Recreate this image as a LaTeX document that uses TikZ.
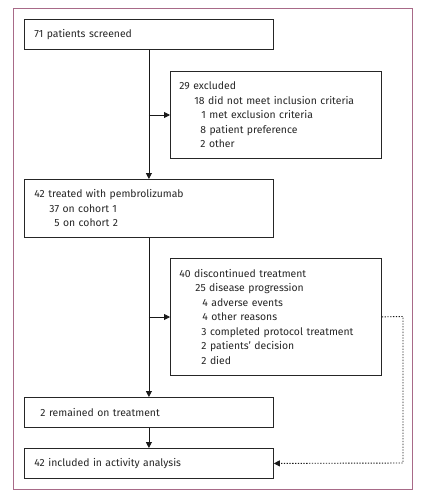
\documentclass[tikz,border=0pt]{standalone}
\usepackage{fontspec}
\setmainfont{Fira Sans}
\usetikzlibrary{arrows.meta}
\definecolor{framec}{HTML}{A86A88}
\tikzset{
  box/.style={draw=black!85, line width=0.8pt, anchor=north west, align=left, inner ysep=0pt,
    font=\fontsize{10.4pt}{14.5pt}\selectfont, text=black!85},
  boxL/.style={box, inner xsep=10pt, minimum width=249pt, text width=229pt},
  boxR/.style={box, inner xsep=9pt, minimum width=211pt, text width=193pt},
  arr/.style={draw=black!90, line width=0.8pt, -{Triangle[length=6pt,width=6pt]}},
  dotarr/.style={draw=black!90, line width=0.9pt, dash pattern=on 1.3pt off 1.5pt, -{Triangle[length=6pt,width=6pt]}}
}
\begin{document}
\begin{tikzpicture}[x=1pt,y=-1pt]
\useasboundingbox (0,0) rectangle (428,498);
\draw[framec, line width=0.8pt] (13,8) rectangle (412,489);
\node[boxL, minimum height=30pt] (scr) at (24,19) {71 patients screened};
\node[boxR, minimum height=87pt] (exc) at (170,71) {29 excluded\\
\hspace*{15pt}18 did not meet inclusion criteria\\
\hspace*{22pt}1 met exclusion criteria\\
\hspace*{21pt}8 patient preference\\
\hspace*{21pt}2 other};
\node[boxL, minimum height=58pt] (trt) at (24,179) {42 treated with pembrolizumab\\
\hspace*{15pt}37 on cohort 1\\
\hspace*{20pt}5 on cohort 2};
\node[boxR, minimum height=117pt] (dis) at (170,258) {40 discontinued treatment\\
\hspace*{16pt}25 disease progression\\
\hspace*{23pt}4 adverse events\\
\hspace*{23pt}4 other reasons\\
\hspace*{22pt}3 completed protocol treatment\\
\hspace*{22pt}2 patients' decision\\
\hspace*{22pt}2 died};
\node[boxL, minimum height=30pt] (rem) at (24,397) {\hspace*{6pt}2 remained on treatment};
\node[boxL, minimum height=30pt] (inc) at (24,448) {42 included in activity analysis};
\coordinate (b1) at (scr.south |- 0,115);
\coordinate (b2) at (trt.south |- 0,317);
\coordinate (d1) at (403,316.5);
\coordinate (d2) at (403,463);
\draw[arr] (scr.south) -- (trt.north);
\draw[arr] (b1) -- (b1 -| exc.west);
\draw[arr] (trt.south) -- (rem.north);
\draw[arr] (b2) -- (b2 -| dis.west);
\draw[arr] (rem.south) -- (inc.north);
\draw[dotarr] (dis.east) -- (d1) -- (d2) -- (inc.east);
\end{tikzpicture}
\end{document}
